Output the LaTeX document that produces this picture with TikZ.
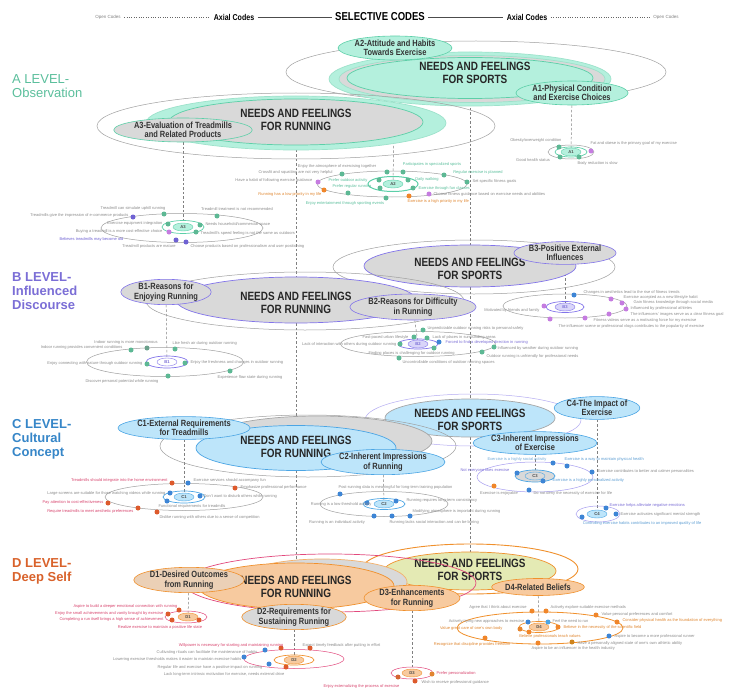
\documentclass[tikz,border=0pt]{standalone}
\usepackage{fontspec}
\setmainfont{Liberation Sans}
\newfontfamily\narrowsans[FakeStretch=0.83]{Liberation Sans}
\usetikzlibrary{shapes.geometric}

\pgfdeclarelayer{back}
\pgfdeclarelayer{links}
\pgfsetlayers{back,links,main}

\definecolor{tealfill}{HTML}{B4F0DD}
\definecolor{tealline}{HTML}{5CCFA8}
\definecolor{tealtext}{HTML}{5BBF9C}
\definecolor{tealdot}{HTML}{5DB894}
\definecolor{grayfill}{HTML}{D9D9D9}
\definecolor{purptext}{HTML}{7B6ED6}
\definecolor{purpline}{HTML}{8274EA}
\definecolor{bluetext}{HTML}{3686C8}
\definecolor{bluefill}{HTML}{BDE5FA}
\definecolor{blueline}{HTML}{4BA5E4}
\definecolor{bluedot}{HTML}{3D85D5}
\definecolor{redtext}{HTML}{D9622B}
\definecolor{peachfill}{HTML}{F7CA9F}
\definecolor{orangeline}{HTML}{F0902C}
\definecolor{pinkline}{HTML}{E2497D}
\definecolor{limefill}{HTML}{E4EAB4}
\definecolor{magdot}{HTML}{C57CE0}
\definecolor{orangedot}{HTML}{F0862A}
\definecolor{violetdot}{HTML}{6F62D3}
\definecolor{reddot}{HTML}{DD5A2C}
\definecolor{codegray}{HTML}{8C8C8C}
\definecolor{pinktext}{HTML}{D8456E}
\definecolor{oratext}{HTML}{E0862F}

\newcommand\needfont{\narrowsans\bfseries\fontsize{12}{13}\selectfont}
\newcommand\axialfont{\narrowsans\bfseries\fontsize{9}{9.5}\selectfont}
\newcommand\codefont{\fontsize{4}{4.5}\selectfont}
\newcommand\tagfont{\bfseries\fontsize{4.2}{5}\selectfont}
\newcommand\lvlfont{\fontsize{13}{14}\selectfont}
\newcommand\headfont{\narrowsans\bfseries\fontsize{11.5}{12}\selectfont}
\newcommand\axhead{\narrowsans\bfseries\fontsize{8.5}{9}\selectfont}
\newcommand\openfont{\fontsize{4.5}{5}\selectfont}

\tikzset{
  ring/.style={ellipse, draw=gray!75, line width=0.5pt, inner sep=0pt},
  blob/.style={ellipse, inner sep=0pt, line width=0.7pt},
  need/.style={font=\needfont, align=center, text=black!85, inner sep=1pt},
  axial/.style={ellipse, inner sep=0pt, font=\axialfont, align=center, text=black!80, line width=0.6pt},
  code/.style={font=\codefont, text=codegray, inner sep=0.4pt},
  tag/.style={ellipse, inner sep=0pt, minimum width=20, minimum height=8, font=\tagfont, text=black!70, line width=0.4pt},
  odot/.style={circle, inner sep=0pt, minimum size=5pt},
  link/.style={draw=gray, line width=0.5pt, dash pattern=on 2.5pt off 2pt},
  lvl/.style={anchor=west, align=left, font=\lvlfont, inner sep=0pt},
}

\begin{document}
\begin{tikzpicture}[x=1pt, y=-1pt]
\begin{pgfonlayer}{back}
  \fill[white] (0,0) rectangle (736,690);
\end{pgfonlayer}
\useasboundingbox (0,0) rectangle (736,690);

% header
\node[font=\headfont] (sel) at (380,17) {SELECTIVE CODES};
\node[font=\axhead] (axL) at (234,17) {Axial Codes};
\node[font=\axhead] (axR) at (527,17) {Axial Codes};
\node[font=\openfont, text=gray] (opL) at (108,17) {Open Codes};
\node[font=\openfont, text=gray] (opR) at (666,17) {Open Codes};
\draw[gray!80!black, dotted] (opL) -- (axL);
\draw[gray!60!black, line width=0.6pt] (axL) -- (sel);
\draw[gray!60!black, line width=0.6pt] (sel) -- (axR);
\draw[gray!80!black, dotted] (axR) -- (opR);

% ---------------- A level ----------------
\node[lvl, text=tealtext] (Alvl) at (12,86) {A LEVEL-\\Observation};

% sports
\node[ring, minimum width=380, minimum height=62] (SpoAo) at (476,72) {};
\node[blob, fill=tealfill, draw=tealline!60, minimum width=282, minimum height=54] (SpoAt) at (470,79) {};
\node[blob, fill=grayfill, draw=tealline!60, minimum width=266, minimum height=47] (SpoAg) at (472,79) {};
\node[blob, fill=tealfill, draw=tealline, minimum width=246, minimum height=41] (SpoA) at (470,78) {};
\node[need] (SpoAtx) at (475,73) {NEEDS AND FEELINGS\\FOR SPORTS};
\node[axial, fill=tealfill, draw=tealline, minimum width=96, minimum height=24] (A2ax) at (395,48) {A2-Attitude and Habits\\Towards Exercise};
\node[axial, fill=tealfill, draw=tealline, minimum width=100, minimum height=24] (A1ax) at (572,93) {A1-Physical Condition\\and Exercise Choices};

% running
\node[ring, minimum width=398, minimum height=66] (RunAo) at (296,126) {};
\node[blob, fill=tealfill, draw=tealline!60, minimum width=300, minimum height=54] (RunAt) at (296,123) {};
\node[blob, fill=grayfill, draw=tealline, minimum width=254, minimum height=46] (RunA) at (296,122) {};
\node[need] (RunAtx) at (296,120) {NEEDS AND FEELINGS\\FOR RUNNING};
\node[axial, fill=grayfill, draw=tealline, minimum width=112, minimum height=24] (A3ax) at (183,130) {A3-Evaluation of Treadmills\\and Related Products};

% A3 open codes
\node[ring, minimum width=162, minimum height=29] (A3o) at (182,228) {};
\node[blob, draw=tealline, minimum width=42, minimum height=13] (A3m) at (183,227) {};
\node[tag, fill=tealfill, draw=tealline] (A3c) at (183,227) {A3};
\node[odot, fill=violetdot] (a3d1) at (133,217) {};
\node[odot, fill=tealdot] (a3d2) at (164,214) {};
\node[odot, fill=tealdot] (a3d3) at (217,216) {};
\node[odot, fill=tealdot] (a3d4) at (168,224) {};
\node[odot, fill=tealdot] (a3d5) at (200,225) {};
\node[odot, fill=magdot] (a3d6) at (169,232) {};
\node[odot, fill=tealdot] (a3d7) at (196,232) {};
\node[odot, fill=violetdot] (a3d8) at (176,240) {};
\node[odot, fill=violetdot] (a3d9) at (186,242) {};
\node[code, anchor=east] (a3t1) at (129,215) {Treadmills give the impression of e-commerce products};
\node[code] (a3t2) at (133,208) {Treadmill can simulate uphill running};
\node[code] (a3t3) at (237,209) {Treadmill treatment is not recommended};
\node[code, anchor=east] (a3t4) at (163,223) {Exercise equipment integration};
\node[code, anchor=east] (a3t5) at (163,231) {Buying a treadmill is a more cost-effective choice};
\node[code, anchor=east, text=violetdot] (a3t6) at (124,239) {Believes treadmills may become old};
\node[code] (a3t7) at (149,246) {Treadmill products are mature};
\node[code, anchor=west] (a3t8) at (190,246) {Choose products based on professionalism and user positioning};
\node[code, anchor=west] (a3t9) at (205,224) {Needs household/commercial space};
\node[code, anchor=west] (a3t10) at (200,233) {Treadmill's speed feeling is not the same as outdoors};

% A2 open codes
\node[ring, minimum width=150, minimum height=26] (A2o) at (392,184) {};
\node[blob, draw=tealline, line width=1pt, minimum width=50, minimum height=15] (A2m) at (393,184) {};
\node[tag, fill=tealfill, draw=tealline] (A2c) at (393,184) {A2};
\node[odot, fill=tealdot] (a2d1) at (342,174) {};
\node[odot, fill=tealdot] (a2d2) at (387,172) {};
\node[odot, fill=tealdot] (a2d3) at (403,172) {};
\node[odot, fill=tealdot] (a2d4) at (444,175) {};
\node[odot, fill=magdot] (a2d5) at (318,182) {};
\node[odot, fill=tealdot] (a2d6) at (379,180) {};
\node[odot, fill=tealdot] (a2d7) at (408,180) {};
\node[odot, fill=tealdot] (a2d8) at (467,182) {};
\node[odot, fill=orangedot] (a2d9) at (324,190) {};
\node[odot, fill=tealdot] (a2d10) at (380,188) {};
\node[odot, fill=tealdot] (a2d11) at (413,188) {};
\node[odot, fill=tealdot] (a2d12) at (348,193) {};
\node[odot, fill=tealdot] (a2d13) at (386,198) {};
\node[odot, fill=orangedot] (a2d14) at (409,196) {};
\node[odot, fill=magdot] (a2d15) at (429,194) {};
\node[code] (a2t1) at (337,166) {Enjoy the atmosphere of exercising together};
\node[code, anchor=east] (a2t2) at (333,172) {Crossfit and squatting are not very helpful};
\node[code, anchor=east] (a2t3) at (313,180) {Have a habit of following exercise guidance};
\node[code, text=tealtext] (a2t4) at (348,180) {Prefer outdoor activity};
\node[code, text=tealtext] (a2t5) at (352,186) {Prefer regular running};
\node[code, anchor=east, text=oratext] (a2t6) at (322,194) {Running has a low priority in my life};
\node[code, text=tealtext] (a2t7) at (345,203) {Enjoy entertainment through sporting events};
\node[code, text=tealtext] (a2t8) at (432,164) {Participates in specialized sports};
\node[code, text=tealtext] (a2t9) at (478,172) {Regular exercise is planned};
\node[code, text=tealtext] (a2t10) at (427,179) {Daily walking};
\node[code, anchor=west] (a2t11) at (472,181) {Set specific fitness goals};
\node[code, anchor=west, text=tealtext] (a2t12) at (418,188) {Exercise through fun classes};
\node[code, anchor=west] (a2t13) at (433,194) {Choose fitness guidance based on exercise needs and abilities};
\node[code, anchor=west, text=oratext] (a2t14) at (407,201) {Exercise is a high priority in my life};

% A1 open codes
\node[ring, minimum width=46, minimum height=14] (A1o) at (571,152) {};
\node[blob, draw=tealline, minimum width=32, minimum height=10] (A1m) at (571,152) {};
\node[tag, fill=tealfill, draw=tealline] (A1c) at (571,152) {A1};
\node[odot, fill=tealdot] (a1d1) at (559,147) {};
\node[odot, fill=magdot] (a1d2) at (591,151) {};
\node[odot, fill=tealdot] (a1d3) at (560,157) {};
\node[odot, fill=tealdot] (a1d4) at (579,157) {};
\node[code, anchor=east] (a1t1) at (562,140) {Obesity/overweight condition};
\node[code, anchor=west] (a1t2) at (590,143) {Fat and obese is the primary goal of my exercise};
\node[code] (a1t3) at (533,160) {Good health status};
\node[code, anchor=west] (a1t4) at (577,163) {Body reduction is slow};

% ---------------- B level ----------------
\node[lvl, text=purptext, font=\lvlfont\bfseries] (Blvl) at (12,291) {B LEVEL-\\Influenced\\Discourse};

% sports
\node[ring, minimum width=282, minimum height=54] (SpoBo) at (474,267) {};
\node[blob, fill=grayfill, draw=purpline, minimum width=212, minimum height=42] (SpoB) at (470,266) {};
\node[need] (SpoBtx) at (470,269) {NEEDS AND FEELINGS\\FOR SPORTS};
\node[axial, fill=grayfill, draw=purpline, minimum width=92, minimum height=22] (B3ax) at (565,253) {B3-Positive External\\Influences};

% running
\node[ring, minimum width=318, minimum height=58] (RunBo) at (305,301) {};
\node[blob, fill=grayfill, draw=purpline, minimum width=240, minimum height=46] (RunB) at (296,300) {};
\node[need] (RunBtx) at (296,303) {NEEDS AND FEELINGS\\FOR RUNNING};
\node[axial, fill=grayfill, draw=purpline, minimum width=88, minimum height=22] (B1ax) at (166,292) {B1-Reasons for\\Enjoying Running};
\node[axial, fill=grayfill, draw=purpline, minimum width=108, minimum height=26] (B2ax) at (413,307) {B2-Reasons for Difficulty\\in Running};

% B1 open codes
\node[ring, minimum width=157, minimum height=29] (B1o) at (165,362) {};
\node[blob, draw=purpline, minimum width=42, minimum height=12] (B1m) at (167,362) {};
\node[tag, fill=white, draw=purpline, text=purptext] (B1c) at (167,362) {B1};
\node[odot, fill=tealdot] (b1d1) at (131,350) {};
\node[odot, fill=tealdot!60!gray] (b1d2) at (147,348) {};
\node[odot, fill=tealdot] (b1d3) at (175,349) {};
\node[odot, fill=tealdot] (b1d4) at (147,364) {};
\node[odot, fill=tealdot] (b1d5) at (185,363) {};
\node[odot, fill=tealdot] (b1d6) at (230,371) {};
\node[odot, fill=tealdot] (b1d7) at (168,376) {};
\node[code] (b1t1) at (126,342) {Indoor running is more monotonous};
\node[code, anchor=east] (b1t2) at (123,347) {Indoor running provides convenient conditions};
\node[code, anchor=west] (b1t3) at (172,343) {Like fresh air during outdoor running};
\node[code, anchor=east] (b1t4) at (143,363) {Enjoy connecting with nature through outdoor running};
\node[code, anchor=west] (b1t5) at (190,362) {Enjoy the freshness and changes in outdoor running};
\node[code] (b1t6) at (122,381) {Discover personal potential while running};
\node[code] (b1t7) at (250,377) {Experience flow state during running};

% B2 open codes
\node[ring, minimum width=155, minimum height=25] (B2o) at (418,344) {};
\node[blob, draw=purpline, minimum width=40, minimum height=10] (B2m) at (418,344) {};
\node[tag, fill=purpline!30, draw=purpline, text=purptext] (B2c) at (418,344) {B2};
\node[odot, fill=tealdot] (b2d1) at (423,330) {};
\node[odot, fill=tealdot] (b2d2) at (414,337) {};
\node[odot, fill=tealdot] (b2d3) at (427,338) {};
\node[odot, fill=tealdot] (b2d4) at (400,344) {};
\node[odot, fill=bluedot] (b2d5) at (439,342) {};
\node[odot, fill=tealdot] (b2d6) at (434,348) {};
\node[odot, fill=tealdot] (b2d7) at (482,352) {};
\node[odot, fill=tealdot] (b2d8) at (494,347) {};
\node[odot, fill=tealdot] (b2d9) at (399,358) {};
\node[code, anchor=west] (b2t1) at (427,328) {Unpredictable outdoor running risks to personal safety};
\node[code, anchor=east] (b2t2) at (409,337) {Fast-paced urban lifestyle};
\node[code, anchor=west] (b2t3) at (432,337) {Lack of places in surrounding areas};
\node[code, anchor=east] (b2t4) at (397,344) {Lack of interaction with others during outdoor running};
\node[code, anchor=west, text=purptext] (b2t5) at (445,342) {Forced to find a developed direction in running};
\node[code, anchor=west] (b2t6) at (497,348) {Influenced by weather during outdoor running};
\node[code, anchor=west] (b2t7) at (486,356) {Outdoor running is unfriendly for professional needs};
\node[code, anchor=west] (b2t8) at (368,353) {Finding places is challenging for outdoor running};
\node[code, anchor=west] (b2t9) at (402,362) {Uncontrollable conditions of outdoor running spaces};

% B3 open codes
\node[ring, minimum width=124, minimum height=24] (B3o) at (565,306) {};
\node[blob, draw=purpline, minimum width=38, minimum height=11] (B3m) at (565,307) {};
\node[tag, fill=purpline!30, draw=purpline, text=purptext] (B3c) at (565,307) {B3};
\node[odot, fill=bluedot] (b3d1) at (574,295) {};
\node[odot, fill=magdot] (b3d2) at (611,299) {};
\node[odot, fill=magdot] (b3d3) at (622,303) {};
\node[odot, fill=magdot] (b3d4) at (626,309) {};
\node[odot, fill=magdot] (b3d5) at (544,306) {};
\node[odot, fill=magdot] (b3d6) at (609,314) {};
\node[odot, fill=magdot] (b3d7) at (585,318) {};
\node[odot, fill=magdot] (b3d8) at (550,319) {};
\node[code, anchor=east] (b3t1) at (540,310) {Motivated by friends and family};
\node[code, anchor=west] (b3t2) at (583,292) {Changes in aesthetics lead to the rise of fitness trends};
\node[code, anchor=west] (b3t3) at (623,297) {Exercise accepted as a new lifestyle habit};
\node[code, anchor=west] (b3t4) at (633,302) {Gain fitness knowledge through social media};
\node[code, anchor=west] (b3t5) at (630,308) {Influenced by professional athletes};
\node[code, anchor=west] (b3t6) at (630,314) {The influencers' images serve as a clear fitness goal};
\node[code, anchor=west] (b3t7) at (593,320) {Fitness videos serve as a motivating force for my exercise};
\node[code, anchor=west] (b3t8) at (558,326) {The influencer scene or professional vlogs contributes to the popularity of exercise};

% ---------------- C level ----------------
\node[lvl, text=bluetext, font=\lvlfont\bfseries] (Clvl) at (12,439) {C LEVEL-\\Cultural\\Concept};

% sports
\node[ring, draw=purpline!60, minimum width=216, minimum height=52] (SpoCo) at (473,420) {};
\node[blob, fill=bluefill, draw=gray!70, minimum width=170, minimum height=38] (SpoC) at (470,418) {};
\node[need] (SpoCtx) at (470,420) {NEEDS AND FEELINGS\\FOR SPORTS};
\node[axial, fill=bluefill, draw=blueline, minimum width=80, minimum height=19] (C4ax) at (597,408) {C4-The Impact of\\Exercise};
\node[axial, fill=bluefill, draw=blueline, minimum width=94, minimum height=22] (C3ax) at (535,443) {C3-Inherent Impressions\\of Exercise};

% running
\node[ring, minimum width=296, minimum height=62] (RunCo) at (308,446) {};
\node[blob, fill=grayfill, draw=gray!70, minimum width=228, minimum height=50] (RunCg) at (318,441) {};
\node[blob, fill=bluefill, draw=blueline, minimum width=200, minimum height=45] (RunC) at (296,448) {};
\node[need] (RunCtx) at (296,447) {NEEDS AND FEELINGS\\FOR RUNNING};
\node[axial, fill=bluefill, draw=blueline, minimum width=100, minimum height=22] (C1ax) at (184,428) {C1-External Requirements\\for Treadmills};
\node[axial, fill=bluefill, draw=blueline, minimum width=106, minimum height=24] (C2ax) at (383,462) {C2-Inherent Impressions\\of Running};

% C1 open codes
\node[ring, minimum width=158, minimum height=27] (C1o) at (184,497) {};
\node[blob, draw=blueline, minimum width=42, minimum height=12] (C1m) at (184,497) {};
\node[tag, fill=bluefill, draw=blueline] (C1c) at (184,497) {C1};
\node[odot, fill=reddot] (c1d1) at (172,483) {};
\node[odot, fill=bluedot] (c1d2) at (188,483) {};
\node[odot, fill=reddot] (c1d3) at (235,488) {};
\node[odot, fill=bluedot] (c1d4) at (170,493) {};
\node[odot, fill=bluedot] (c1d5) at (200,496) {};
\node[odot, fill=bluedot] (c1d6) at (167,501) {};
\node[odot, fill=reddot] (c1d7) at (108,503) {};
\node[odot, fill=reddot] (c1d8) at (138,508) {};
\node[odot, fill=reddot] (c1d9) at (157,512) {};
\node[code, anchor=east, text=pinktext] (c1t1) at (168,480) {Treadmills should integrate into the home environment};
\node[code, anchor=west] (c1t2) at (193,480) {Exercise services should accompany fun};
\node[code, anchor=west] (c1t3) at (240,487) {Emphasize professional performance};
\node[code, anchor=east] (c1t4) at (166,493) {Large screens are suitable for those watching videos while running};
\node[code, anchor=west] (c1t5) at (203,496) {Don't want to disturb others while running};
\node[code, anchor=east, text=pinktext] (c1t6) at (104,502) {Pay attention to cost-effectiveness};
\node[code] (c1t7) at (192,506) {Functional requirements for treadmills};
\node[code, anchor=east, text=pinktext] (c1t8) at (134,511) {Require treadmills to meet aesthetic preferences};
\node[code, anchor=west] (c1t9) at (159,517) {Dislike running with others due to a sense of competition};

% C2 open codes
\node[ring, minimum width=128, minimum height=25] (C2o) at (384,504) {};
\node[blob, draw=blueline, minimum width=42, minimum height=11] (C2m) at (384,504) {};
\node[tag, fill=bluefill, draw=blueline] (C2c) at (384,504) {C2};
\node[odot, fill=bluedot] (c2d1) at (340,494) {};
\node[odot, fill=bluedot] (c2d2) at (367,503) {};
\node[odot, fill=bluedot] (c2d3) at (396,501) {};
\node[odot, fill=bluedot] (c2d4) at (410,516) {};
\node[odot, fill=bluedot] (c2d5) at (392,516) {};
\node[odot, fill=bluedot] (c2d6) at (374,516) {};
\node[code, anchor=west] (c2t1) at (338,487) {Post-running data is meaningful for long-term training population};
\node[code, anchor=east] (c2t2) at (372,504) {Running is a low-threshold activity};
\node[code, anchor=west] (c2t3) at (406,500) {Running requires long-term consistency};
\node[code, anchor=west] (c2t4) at (412,511) {Modifying atmosphere is important during running};
\node[code] (c2t5) at (337,522) {Running is an individual activity};
\node[code, anchor=west] (c2t6) at (389,522) {Running lacks social interaction and can be boring};

% C3 open codes
\node[ring, draw=purpline!70, minimum width=116, minimum height=30] (C3o) at (535,477) {};
\node[blob, fill=grayfill, draw=blueline, minimum width=40, minimum height=12] (C3m) at (535,476) {};
\node[tag, fill=grayfill, draw=blueline] (C3c) at (535,476) {C3};
\node[odot, fill=bluedot] (c3d1) at (553,463) {};
\node[odot, fill=bluedot] (c3d2) at (567,466) {};
\node[odot, fill=bluedot] (c3d3) at (592,472) {};
\node[odot, fill=bluedot] (c3d4) at (517,473) {};
\node[odot, fill=bluedot] (c3d5) at (543,481) {};
\node[odot, fill=orangedot] (c3d6) at (494,486) {};
\node[odot, fill=bluedot] (c3d7) at (529,490) {};
\node[code, text=bluetext!70] (c3t1) at (517,459) {Exercise is a highly social activity};
\node[code, anchor=west, text=bluetext!80] (c3t2) at (564,459) {Exercise is a way to maintain physical health};
\node[code, text=purptext] (c3t3) at (485,470) {Not everyone likes exercise};
\node[code, anchor=west] (c3t4) at (597,471) {Exercise contributes to better and calmer personalities};
\node[code, anchor=west, text=bluetext!80] (c3t5) at (552,480) {Exercise is a highly personalized activity};
\node[code] (c3t6) at (499,493) {Exercise is enjoyable};
\node[code, anchor=west] (c3t7) at (533,493) {Do not deny the necessity of exercise for life};

% C4 open codes
\node[ring, draw=purpline!70, minimum width=44, minimum height=16] (C4o) at (598,514) {};
\node[tag, fill=bluefill, draw=blueline] (C4c) at (597,514) {C4};
\node[odot, fill=bluedot] (c4d1) at (606,508) {};
\node[odot, fill=bluedot] (c4d2) at (616,514) {};
\node[odot, fill=bluedot] (c4d3) at (582,517) {};
\node[code, anchor=west, text=purptext] (c4t1) at (609,505) {Exercise helps alleviate negative emotions};
\node[code, anchor=west] (c4t2) at (620,514) {Exercise activates significant mental strength};
\node[code, text=bluetext!80] (c4t3) at (642,523) {Controlling exercise habits contributes to an improved quality of life};

% ---------------- D level ----------------
\node[lvl, text=redtext, font=\lvlfont\bfseries] (Dlvl) at (12,571) {D LEVEL-\\Deep Self};

% sports
\node[ring, draw=orangeline, line width=0.9pt, minimum width=216, minimum height=50] (SpoDo) at (470,569) {};
\node[blob, fill=limefill, draw=orangeline, minimum width=172, minimum height=38] (SpoD) at (470,571) {};
\node[need] (SpoDtx) at (470,570) {NEEDS AND FEELINGS\\FOR SPORTS};
\node[axial, fill=peachfill, draw=orangeline, minimum width=80, minimum height=17] (D4ax) at (538,587) {D4-Related Beliefs};

% running
\node[ring, draw=pinkline, line width=0.7pt, minimum width=292, minimum height=58] (RunDo) at (330,583) {};
\node[blob, fill=grayfill, draw=orangeline!70, minimum width=170, minimum height=46] (RunDg) at (322,582) {};
\node[blob, fill=peachfill, draw=orangeline, minimum width=196, minimum height=46] (RunD) at (296,586) {};
\node[need] (RunDtx) at (296,587) {NEEDS AND FEELINGS\\FOR RUNNING};
\node[axial, fill=peachfill!60!grayfill, draw=orangeline, minimum width=100, minimum height=22] (D1ax) at (189,580) {D1-Desired Outcomes\\from Running};
\node[axial, fill=grayfill, draw=orangeline, minimum width=104, minimum height=22] (D2ax) at (294,617) {D2-Requirements for\\Sustaining Running};
\node[axial, fill=peachfill, draw=orangeline, minimum width=96, minimum height=24] (D3ax) at (412,598) {D3-Enhancements\\for Running};

% D1 open codes
\node[ring, draw=pinkline, minimum width=42, minimum height=12] (D1o) at (186,617) {};
\node[tag, fill=peachfill, draw=orangeline] (D1c) at (188,617) {D1};
\node[odot, fill=reddot] (d1d1) at (179,610) {};
\node[odot, fill=reddot] (d1d2) at (168,614) {};
\node[odot, fill=reddot] (d1d3) at (172,620) {};
\node[odot, fill=reddot] (d1d4) at (199,620) {};
\node[code, anchor=east, text=pinktext] (d1t1) at (178,606) {Aspire to build a deeper emotional connection with running};
\node[code, anchor=east, text=pinktext] (d1t2) at (164,613) {Enjoy the small achievements and vanity brought by exercise};
\node[code, anchor=east, text=pinktext] (d1t3) at (164,619) {Completing a run itself brings a high sense of achievement};
\node[code, text=pinktext] (d1t4) at (160,627) {Realize exercise to maintain a positive life state};

% D2 open codes
\node[ring, draw=pinkline, minimum width=100, minimum height=19] (D2o) at (294,659) {};
\node[blob, draw=orangeline, minimum width=40, minimum height=10] (D2m) at (294,660) {};
\node[tag, fill=peachfill, draw=orangeline] (D2c) at (294,660) {D2};
\node[odot, fill=bluedot] (d2d1) at (265,650) {};
\node[odot, fill=reddot] (d2d2) at (281,648) {};
\node[odot, fill=reddot] (d2d3) at (310,648) {};
\node[odot, fill=bluedot] (d2d4) at (244,657) {};
\node[odot, fill=bluedot] (d2d5) at (269,664) {};
\node[odot, fill=reddot] (d2d6) at (286,667) {};
\node[code, anchor=east, text=pinktext] (d2t1) at (284,645) {Willpower is necessary for starting and maintaining running};
\node[code, anchor=east] (d2t2) at (258,652) {Cultivating rituals can facilitate the maintenance of habits};
\node[code, anchor=east] (d2t3) at (242,659) {Lowering exercise thresholds makes it easier to maintain exercise habits};
\node[code, anchor=east] (d2t4) at (263,667) {Regular life and exercise have a positive impact on running};
\node[code, anchor=east] (d2t5) at (285,674) {Lack long-term intrinsic motivation for exercise, needs external drive};
\node[code, anchor=west] (d2t6) at (302,645) {Expect timely feedback after putting in effort};

% D3 open codes
\node[ring, draw=pinkline, minimum width=42, minimum height=12] (D3o) at (412,673) {};
\node[tag, fill=peachfill, draw=orangeline] (D3c) at (412,673) {D3};
\node[odot, fill=orangedot!70!brown] (d3d1) at (432,674) {};
\node[odot, fill=reddot!70!brown] (d3d2) at (398,677) {};
\node[odot, fill=reddot] (d3d3) at (415,681) {};
\node[code, anchor=west, text=pinktext] (d3t1) at (436,673) {Prefer personalization};
\node[code, anchor=west] (d3t2) at (421,682) {Wish to receive professional guidance};
\node[code, anchor=west, text=pinktext] (d3t3) at (323,686) {Enjoy externalizing the process of exercise};

% D4 open codes
\node[ring, draw=orangeline, line width=0.8pt, minimum width=166, minimum height=32] (D4o) at (540,628) {};
\node[blob, draw=orangeline, minimum width=40, minimum height=11] (D4m) at (539,627) {};
\node[tag, fill=peachfill, draw=orangeline] (D4c) at (539,627) {D4};
\node[odot, fill=orangedot] (d4d1) at (532,611) {};
\node[odot, fill=orangedot] (d4d2) at (546,611) {};
\node[odot, fill=orangedot] (d4d3) at (596,615) {};
\node[odot, fill=orangedot] (d4d4) at (617,622) {};
\node[odot, fill=bluedot] (d4d5) at (528,622) {};
\node[odot, fill=blueline] (d4d6) at (548,622) {};
\node[odot, fill=orangedot] (d4d7) at (558,627) {};
\node[odot, fill=orangedot!80!brown] (d4d8) at (520,629) {};
\node[odot, fill=orangedot] (d4d9) at (529,632) {};
\node[odot, fill=bluedot] (d4d10) at (609,636) {};
\node[odot, fill=orangedot] (d4d11) at (485,638) {};
\node[odot, fill=orangedot] (d4d12) at (538,643) {};
\node[odot, fill=orangedot!70!olive] (d4d13) at (572,642) {};
\node[code] (d4t1) at (498,607) {Agree that I think about exercise};
\node[code, anchor=west] (d4t2) at (550,607) {Actively explore suitable exercise methods};
\node[code, anchor=west] (d4t3) at (601,614) {Value personal preferences and comfort};
\node[code, anchor=west, text=oratext] (d4t4) at (622,620) {Consider physical health as the foundation of everything};
\node[code, anchor=east] (d4t5) at (525,621) {Actively trying new approaches to exercise};
\node[code, anchor=west] (d4t6) at (552,621) {Feel the need to run};
\node[code, anchor=east, text=oratext] (d4t7) at (503,628) {Value great care of one's own body};
\node[code, anchor=west, text=oratext] (d4t8) at (563,627) {Believe in the necessity of the scientific field};
\node[code, text=oratext] (d4t9) at (550,636) {Believe professionals teach values};
\node[code, anchor=west] (d4t10) at (614,636) {Aspire to become a more professional runner};
\node[code, text=oratext] (d4t11) at (472,644) {Recognize that discipline provides freedom};
\node[code, anchor=west] (d4t12) at (577,643) {Have a personally aligned state of one's own athletic ability};
\node[code, anchor=west] (d4t13) at (531,648) {Aspire to be an influencer in the health industry};

% dashed links between codes
\begin{pgfonlayer}{links}
\draw[link] (RunA) -- (RunB);
\draw[link] (RunB) -- (RunC);
\draw[link] (RunC) -- (RunD);
\draw[link] (RunD) -- (D2ax);
\draw[link] (D2ax) -- (D2c);
\draw[link] (SpoA) -- (SpoB);
\draw[link] (SpoB) -- (SpoC);
\draw[link] (SpoC) -- (SpoD);
\draw[link] (A2ax) -- (A2c);
\draw[link] (A1ax) -- (A1c);
\draw[link] (A3ax) -- (A3c);
\draw[link] (B1ax) -- (B1c);
\draw[link] (B2ax) -- (B2c);
\draw[link] (B3ax) -- (B3c);
\draw[link] (C1ax) -- (C1c);
\draw[link] (C2ax) -- (C2c);
\draw[link] (C3ax) -- (C3c);
\draw[link] (C4ax) -- (C4c);
\draw[link] (D1ax) -- (D1c);
\draw[link] (D3ax) -- (D3c);
\draw[link] (D4ax) -- (D4c);
\end{pgfonlayer}

\end{tikzpicture}
\end{document}
